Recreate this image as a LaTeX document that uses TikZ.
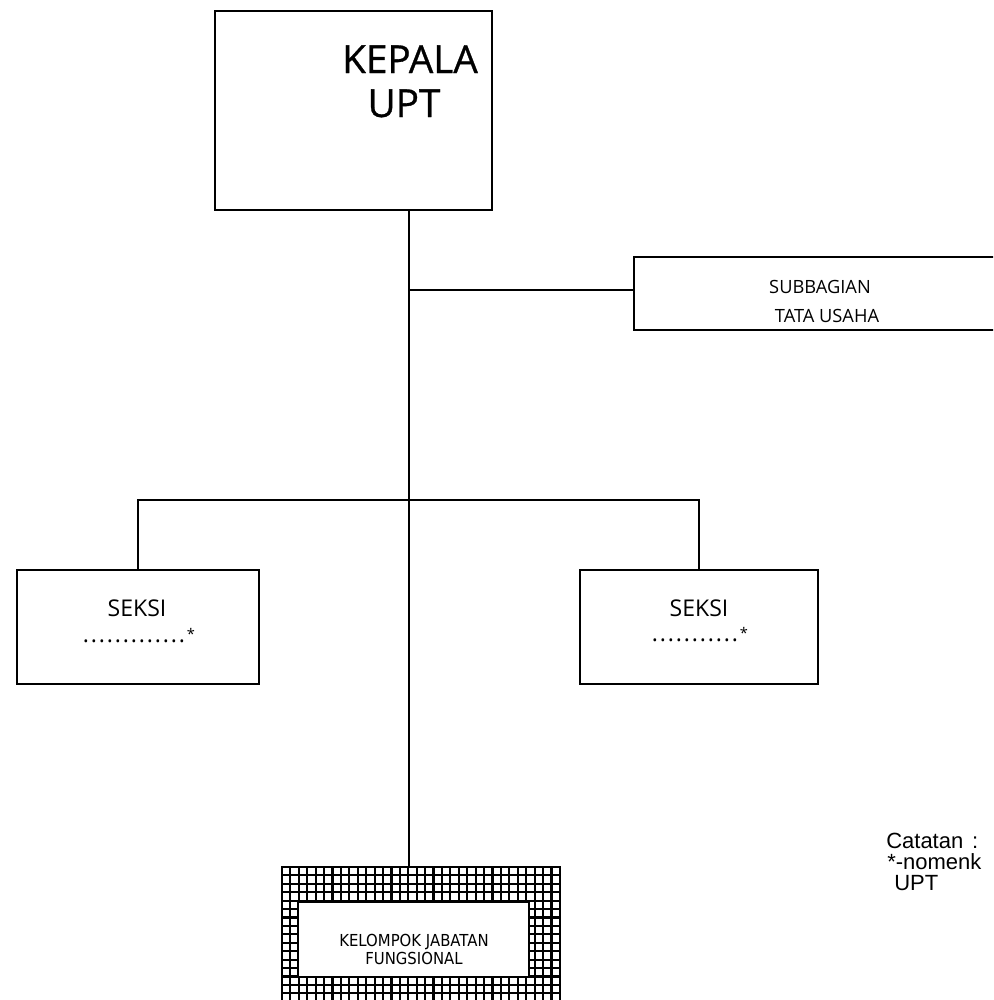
\documentclass[tikz,border=0pt]{standalone}
\usepackage{fontspec}
\newfontfamily\boxfont{Open Sans}
\newfontfamily\headfont[FakeBold=0.8]{Open Sans}
\newfontfamily\kjffont[FakeStretch=0.9]{DejaVu Sans}
\newfontfamily\notefont{Liberation Sans}
\newcommand{\dotrun}[1]{\foreach \d in {1,...,#1}{\makebox[6pt][l]{.}}}
\tikzset{unitbox/.style = {shape=rectangle,draw,line width=1.5pt,inner sep=0pt}}
\tikzset{lbl/.style = {inner sep=0pt,anchor=base}}
\tikzset{mainline/.style = {line width=1.5pt}}
\tikzset{thinline/.style = {line width=0.8pt}}
\tikzset{gridline/.style = {line width=1.6pt}}

\begin{document}
\begin{tikzpicture}[x=0.75pt,y=-0.75pt]
\useasboundingbox (0,0) rectangle (993,1000);
\clip (0,0) rectangle (993,1000);

% hatched frame of the functional group
\begin{scope}
    \clip (282,867) rectangle (560,1012);
    \foreach \k in {0,...,33}
        \draw[gridline] (282+\k*8.42,867) -- ++(0,150);
    \foreach \k in {0,...,17}
        \draw[gridline] (282,867+\k*8.42) -- ++(290,0);
\end{scope}

\node[unitbox] (kepala) at (353.5,110.5) [minimum width=207.75pt,minimum height=149.25pt] {};
\node[unitbox] (subbag) at (823,293.5) [minimum width=283.5pt,minimum height=54.75pt] {};
\node[unitbox] (seksiL) at (138,627) [minimum width=181.5pt,minimum height=85.5pt] {};
\node[unitbox] (seksiR) at (699,627) [minimum width=178.5pt,minimum height=85.5pt] {};
\node[unitbox,line width=2.2pt] (kjfouter) at (421,939.5) [minimum width=208.5pt,minimum height=108.75pt] {};
\node[unitbox,fill=white] (kjf) at (413.5,939.5) [minimum width=173.25pt,minimum height=56.25pt] {};

\node[lbl,font=\headfont\fontsize{29}{33}\selectfont] (kepalaA) at (410,73) {KEPALA};
\node[lbl,font=\headfont\fontsize{29}{33}\selectfont] (kepalaB) at (404,117) {UPT};

\node[lbl,font=\boxfont\fontsize{13.7}{16}\selectfont] (subbagA) at (820,293) {SUBBAGIAN};
\node[lbl,font=\boxfont\fontsize{13.7}{16}\selectfont] (subbagB) at (827,322) {TATA USAHA};

\node[lbl,font=\boxfont\fontsize{17.3}{20}\selectfont] (seksiLA) at (137,616) {SEKSI};
\node[lbl,font=\boxfont\fontsize{17.3}{20}\selectfont] (seksiLB) at (139,642) {\dotrun{13}\raisebox{2pt}{\fontsize{11}{11}\selectfont*}};
\node[lbl,font=\boxfont\fontsize{17.3}{20}\selectfont] (seksiRA) at (699,616) {SEKSI};
\node[lbl,font=\boxfont\fontsize{17.3}{20}\selectfont] (seksiRB) at (700,641) {\dotrun{11}\raisebox{2pt}{\fontsize{11}{11}\selectfont*}};

\node[lbl,font=\kjffont\fontsize{12.4}{14}\selectfont] (kjfA) at (414,946) {KELOMPOK JABATAN};
\node[lbl,font=\kjffont\fontsize{12.4}{14}\selectfont] (kjfB) at (414,964) {FUNGSIONAL};

\node[lbl,anchor=base west,font=\notefont\fontsize{16.5}{20}\selectfont] (noteA) at (886,848) {Catatan\hspace{0.4em}:};
\node[lbl,anchor=base west,font=\notefont\fontsize{16.5}{20}\selectfont] (noteB) at (887,869) {*-nomenk};
\node[lbl,anchor=base west,font=\notefont\fontsize{16.5}{20}\selectfont] (noteC) at (894,890) {UPT};

\coordinate (tu) at (409,290);
\coordinate (sk) at (409,500);

\draw[mainline] (kepala.south -| tu) -- (kjfouter.north -| tu);
\draw[mainline] (tu) -- (tu -| subbag.west);
\draw[thinline] (seksiL.north) |- (sk) -| (seksiR.north);
\end{tikzpicture}
\end{document}
